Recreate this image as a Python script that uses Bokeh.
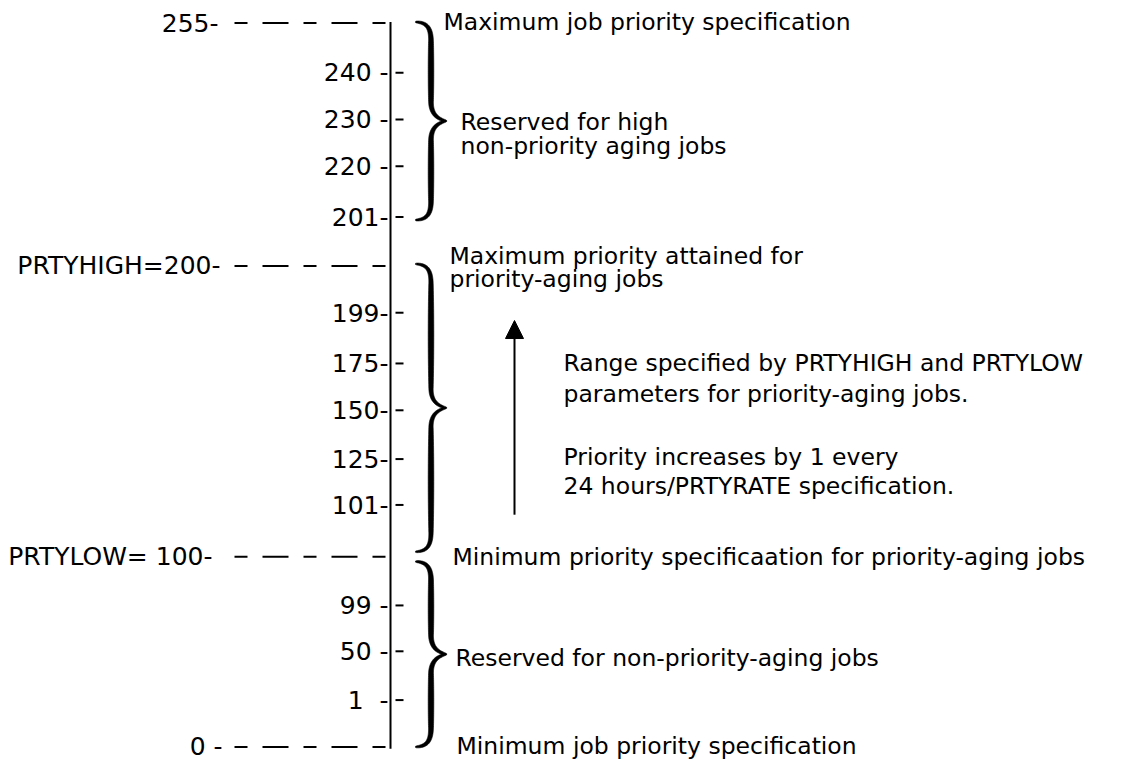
import numpy as np
from bokeh.plotting import figure
from bokeh.models import Range1d, Arrow, NormalHead
from bokeh.core.properties import value
from bokeh.embed import file_html
from bokeh.resources import INLINE

# ---------------- data ----------------
major_levels = [255, 200, 100, 0]
major_labels = ["255-", "PRTYHIGH=200-", "PRTYLOW= 100-", "0 -"]

minor_levels = [240, 230, 220, 201, 199, 175, 150, 125, 101, 99, 50, 1]
minor_labels = ["240 -", "230 -", "220 -", "201-", "199-", "175-", "150-",
                "125-", "101-", "99 -", "50 -", "1\u00a0\u00a0-"]

band_top = [255, 200, 100]
band_bottom = [201, 100, 0]

note_lines = [
    "Maximum job priority specification",
    "Reserved for high",
    "non-priority aging jobs",
    "Maximum priority attained for",
    "priority-aging jobs",
    "Range specified by PRTYHIGH and PRTYLOW",
    "parameters for priority-aging jobs.",
    "Priority increases by 1 every",
    "24 hours/PRTYRATE specification.",
    "Minimum priority specificaation for priority-aging jobs",
    "Reserved for non-priority-aging jobs",
    "Minimum job priority specification",
]

# ---------------- layout (pixel positions of the diagram) ----------------
level_y = {255: 23, 240: 74, 230: 122, 220: 170, 201: 222, 200: 272, 199: 320,
           175: 372, 150: 420, 125: 470, 101: 517, 100: 570, 99: 620, 50: 667,
           1: 717, 0: 765}
AXIS_X = 390
major_label_x = [218, 220, 212, 222]
note_x = [443, 460, 460, 449, 449, 563, 563, 563, 563, 452, 455, 456]
note_mid = [22, 125, 149, 262, 285, 372, 403, 468, 498, 570, 674, 764]
brace_top_off = [-1, -2, 5]
brace_bot_off = [3, -5, 0]

LEFT_FS = 25
NOTE_FS = 23.5
FONT = "DejaVu Sans"

p = figure(width=1127, height=763, output_backend="svg", toolbar_location=None,
           x_range=Range1d(0, 1127), y_range=Range1d(782, 0), min_border=0)
p.axis.visible = False
p.grid.visible = False
p.outline_line_color = None
p.background_fill_color = "white"

# main vertical line
p.segment(x0=[AXIS_X], y0=[level_y[255] - 1], x1=[AXIS_X], y1=[level_y[0] + 2],
          line_color="black", line_width=2)

# major levels: labels + dashed lines
maj_y = [level_y[v] for v in major_levels]
p.segment(x0=[234] * len(maj_y), y0=maj_y, x1=[386] * len(maj_y), y1=maj_y,
          line_color="black", line_width=2, line_dash="13 15 26 15")
p.text(x=major_label_x, y=maj_y, text=major_labels,
       text_font=value(FONT), text_font_size=value(f"{LEFT_FS}px"),
       text_align="right", text_baseline="middle", text_color="black")

# minor levels: labels + tick marks on the right
min_y = [level_y[v] for v in minor_levels]
p.text(x=[388] * len(min_y), y=min_y, text=minor_labels,
       text_font=value(FONT), text_font_size=value(f"{LEFT_FS}px"),
       text_align="right", text_baseline="middle", text_color="black")
p.segment(x0=[395] * len(min_y), y0=min_y, x1=[403] * len(min_y), y1=min_y,
          line_color="black", line_width=2)


# braces
def cubic(p0, p1, p2, p3, n=40):
    t = np.linspace(0, 1, n)[:, None]
    return ((1 - t) ** 3) * p0 + 3 * ((1 - t) ** 2) * t * p1 + 3 * (1 - t) * t ** 2 * p2 + t ** 3 * p3


def brace_outline(y0, y1, xl=415.0, xs=430.5, xt=446.0, wmax=5.6, wmin=1.2):
    ym = (y0 + y1) / 2.0
    r = 20.0
    P = lambda x, y: np.array([x, y], dtype=float)
    seg1 = cubic(P(xl, y0), P(xs - 4, y0 + 0.5), P(xs, y0 + 6), P(xs, y0 + r))
    seg2 = np.column_stack([np.full(30, xs), np.linspace(y0 + r, ym - r, 30)])
    seg3 = cubic(P(xs, ym - r), P(xs, ym - r * 0.35), P(xt - 9, ym - 2), P(xt, ym))
    top = np.vstack([seg1, seg2[1:], seg3[1:]])
    d = np.sqrt((np.diff(top, axis=0) ** 2).sum(axis=1))
    s = np.concatenate([[0], np.cumsum(d)])
    u = s / s[-1]
    w_top = wmin + (wmax - wmin) * np.sin(np.pi * u) ** 0.5
    bot = top[::-1].copy()
    bot[:, 1] = 2 * ym - bot[:, 1]
    c = np.vstack([top, bot[1:]])
    w = np.concatenate([w_top, w_top[::-1][1:]])
    g = np.gradient(c, axis=0)
    g /= np.linalg.norm(g, axis=1)[:, None]
    nrm = np.column_stack([-g[:, 1], g[:, 0]])
    left = c + nrm * (w[:, None] / 2)
    right = c - nrm * (w[:, None] / 2)
    poly = np.vstack([left, right[::-1]])
    return list(poly[:, 0]), list(poly[:, 1])


bx, by = [], []
for t, b, ot, ob in zip(band_top, band_bottom, brace_top_off, brace_bot_off):
    xx, yy = brace_outline(level_y[t] + ot, level_y[b] + ob)
    bx.append(xx)
    by.append(yy)
p.patches(xs=bx, ys=by, fill_color="black", line_color="black", line_width=0.6)

# arrow for priority aging
p.add_layout(Arrow(end=NormalHead(size=18, fill_color="black", line_color="black"),
                   x_start=514, y_start=level_y[101] + 10, x_end=514, y_end=328,
                   line_color="black", line_width=2))

# notes
p.text(x=note_x, y=note_mid, text=note_lines,
       text_font=value(FONT), text_font_size=value(f"{NOTE_FS}px"),
       text_align="left", text_baseline="middle", text_color="black")

open("out.html", "w").write(file_html(p, INLINE))
